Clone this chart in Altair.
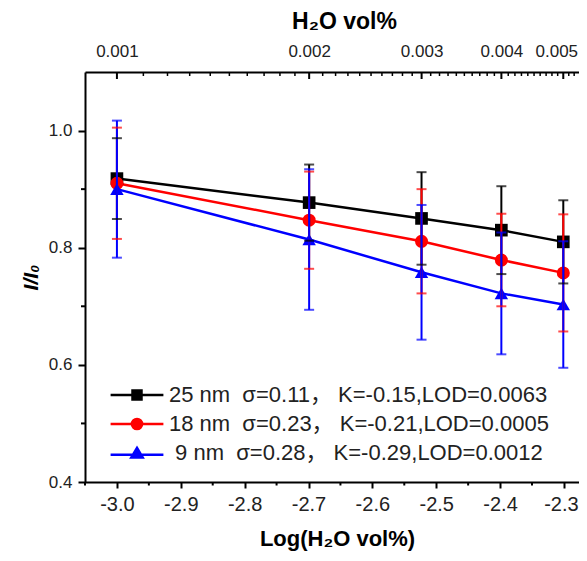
import altair as alt
import pandas as pd

# ---------------- data ----------------
log_x = [-3.0, -2.699, -2.523, -2.398, -2.301]          # Log(H2O vol%)
keys = ["25 nm", "18 nm", "9 nm"]
series = [
    "25 nm\u00a0 \u03c3=0.11\uff0c K=-0.15,LOD=0.0063",
    "18 nm\u00a0 \u03c3=0.23\uff0c K=-0.21,LOD=0.0005",
    "\u200b\u00a09 nm\u00a0 \u03c3=0.28\uff0c K=-0.29,LOD=0.0012",
]
colors = ["#000000", "#ff0000", "#0000ff"]

y25 = [0.918, 0.877, 0.850, 0.830, 0.810]
e25 = [0.069, 0.065, 0.079, 0.075, 0.071]
y18 = [0.910, 0.847, 0.811, 0.779, 0.757]
e18 = [0.095, 0.083, 0.089, 0.079, 0.100]
y9 = [0.900, 0.814, 0.758, 0.722, 0.703]
e9 = [0.117, 0.120, 0.115, 0.104, 0.108]

bottom_ticks = [-3.0, -2.9, -2.8, -2.7, -2.6, -2.5, -2.4, -2.3]
bottom_minor = [-3.05, -2.95, -2.85, -2.75, -2.65, -2.55, -2.45, -2.35]
left_ticks = [0.4, 0.6, 0.8, 1.0]
left_minor = [0.5, 0.7, 0.9]
top_ticks = [0.001, 0.002, 0.003, 0.004, 0.005]
top_minor = [round(k * 1e-4, 4) for k in range(11, 53) if k % 10]

# ---------------- tables ----------------
rows = []
for key, name, ys_, es_ in zip(keys, series, [y25, y18, y9], [e25, e18, e9]):
    for xv, yv, ev in zip(log_x, ys_, es_):
        rows.append({"x": xv, "y": yv, "lo": yv - ev, "hi": yv + ev, "k": key, "s": name})
df = pd.DataFrame(rows)

df_bmin = pd.DataFrame({"x": bottom_minor})
df_lmin = pd.DataFrame({"y": left_minor})
df_tmaj = pd.DataFrame({"v": top_ticks})
df_tmin = pd.DataFrame({"v": top_minor})

# ---------------- layout / style ----------------
W, H = 494, 410
X_DOM = [-3.05, -2.2764]
Y_DOM = [0.4, 1.1]
FONT = "Liberation Sans"
LEG_FONT = "Liberation Sans, Noto Sans CJK SC"

xs = alt.Scale(domain=X_DOM, nice=False, zero=False)
ys = alt.Scale(domain=Y_DOM, nice=False, zero=False)
cs = alt.Scale(domain=keys, range=colors)

x_axis = alt.Axis(orient="bottom", values=bottom_ticks,
                  labelExpr="replace(format(datum.value, '.1f'), '\u2212', '-')",
                  labelOffset={"condition": {"test": "datum.value > -2.35", "value": -3}, "value": 0},
                  tickSize=6, labelFontSize=20, labelPadding=6,
                  title="Log(H\u2082O vol%)", titleFontSize=22, titlePadding=14,
                  titleX=252, grid=False)
y_axis = alt.Axis(values=left_ticks, format=".1f", tickSize=7,
                  labelFontSize=17, labelPadding=6,
                  title="I/I\u2080", titleFontSize=21, titleFontStyle="italic",
                  titlePadding=7, grid=False)

X = alt.X("x:Q", scale=xs, axis=x_axis)
Y = alt.Y("y:Q", scale=ys, axis=y_axis)
C = alt.Color("k:N", scale=cs, legend=None)

base = alt.Chart(df)

lines = base.mark_line(strokeWidth=2.5).encode(x=X, y=Y, color=C, detail="k:N")

shapes = ["square", "circle", "triangle-up"]
sizes = [160, 170, 180]
pts = []
for key, shp, sz in zip(keys, shapes, sizes):
    pts.append(
        base.transform_filter(alt.datum.k == key)
        .mark_point(shape=shp, filled=True, size=sz, opacity=1)
        .encode(x=X, y=Y, color=C)
    )

rules = base.mark_rule(strokeWidth=2).encode(
    x=X, y=alt.Y("lo:Q", scale=ys, axis=y_axis), y2="hi:Q", color=C)
cap_lo = base.mark_tick(orient="horizontal", size=10, thickness=2).encode(
    x=X, y=alt.Y("lo:Q", scale=ys, axis=y_axis), color=C)
cap_hi = base.mark_tick(orient="horizontal", size=10, thickness=2).encode(
    x=X, y=alt.Y("hi:Q", scale=ys, axis=y_axis), color=C)

# legend: line + marker symbols as custom paths
paths = [
    "M-4.4,0H4.4M-0.75,-0.75H0.75V0.75H-0.75Z",
    "M-4.4,0H4.4M-0.85,0A0.85,0.85,0,1,1,0.85,0A0.85,0.85,0,1,1,-0.85,0Z",
    "M-4.4,0.3H4.4M0,-0.85L0.95,0.75H-0.95Z",
]
leg = alt.Legend(title=None, orient="none", legendX=41, legendY=312,
                 labelFont=LEG_FONT, labelFontSize=22, labelColor="#222",
                 labelLimit=700, labelOffset=21, symbolStrokeWidth=2.5,
                 symbolSize=144, symbolOpacity=1, rowPadding=7, padding=0)
legend_layer = (
    base.transform_filter("datum.y > 5")          # draws nothing; only the legend
    .mark_point(size=144, filled=True, opacity=1)
    .encode(
        x=X, y=Y,
        shape=alt.Shape("s:N", scale=alt.Scale(domain=series, range=paths), legend=leg),
        fill=alt.Fill("s:N", scale=alt.Scale(domain=series, range=colors), legend=leg),
        stroke=alt.Stroke("s:N", scale=alt.Scale(domain=series, range=colors), legend=leg),
    )
)

ymin = alt.Chart(df_lmin).mark_rule(color="black", strokeWidth=2).encode(
    y=Y, x=alt.value(0), x2=alt.value(-4))
xmin = alt.Chart(df_bmin).mark_rule(color="black", strokeWidth=2).encode(
    x=X, y=alt.value(H), y2=alt.value(H + 3.5))

main = alt.layer(lines, *pts, rules, cap_lo, cap_hi, legend_layer, ymin, xmin)

# top log axis (H2O vol%) with inward ticks
top_axis = alt.Axis(orient="top", values=top_ticks, format=".3f", ticks=False,
                    tickSize=0, labelFontSize=17, labelPadding=12,
                    labelOffset={"condition": {"test": "datum.value > 0.0045", "value": -7}, "value": 0},
                    title="H\u2082O vol%", titleFontSize=23, titlePadding=9,
                    titleX=259, grid=False)
TX = alt.X("v:Q", scale=alt.Scale(type="log", domain=[10 ** X_DOM[0], 10 ** X_DOM[1]], nice=False),
           axis=top_axis)
tmaj = alt.Chart(df_tmaj).mark_rule(color="black", strokeWidth=2).encode(
    x=TX, y=alt.value(0), y2=alt.value(7))
tmin = alt.Chart(df_tmin).mark_rule(color="black", strokeWidth=1.5).encode(
    x=TX, y=alt.value(0), y2=alt.value(4))
top = alt.layer(tmaj, tmin)

chart = (
    alt.layer(main, top)
    .resolve_scale(x="independent")
    .properties(width=W, height=H,
                padding={"left": 77, "top": 64, "right": 0, "bottom": 71},
                autosize=alt.AutoSizeParams(type="none"))
    .configure_view(stroke=None)
    .configure_axis(domainColor="black", domainWidth=2, tickColor="black",
                    tickWidth=2, labelFont=FONT, titleFont=FONT,
                    labelColor="#222", titleColor="black", titleFontWeight="bold")
)

chart.save("out.html", embed_options={"renderer": "svg", "actions": False})
